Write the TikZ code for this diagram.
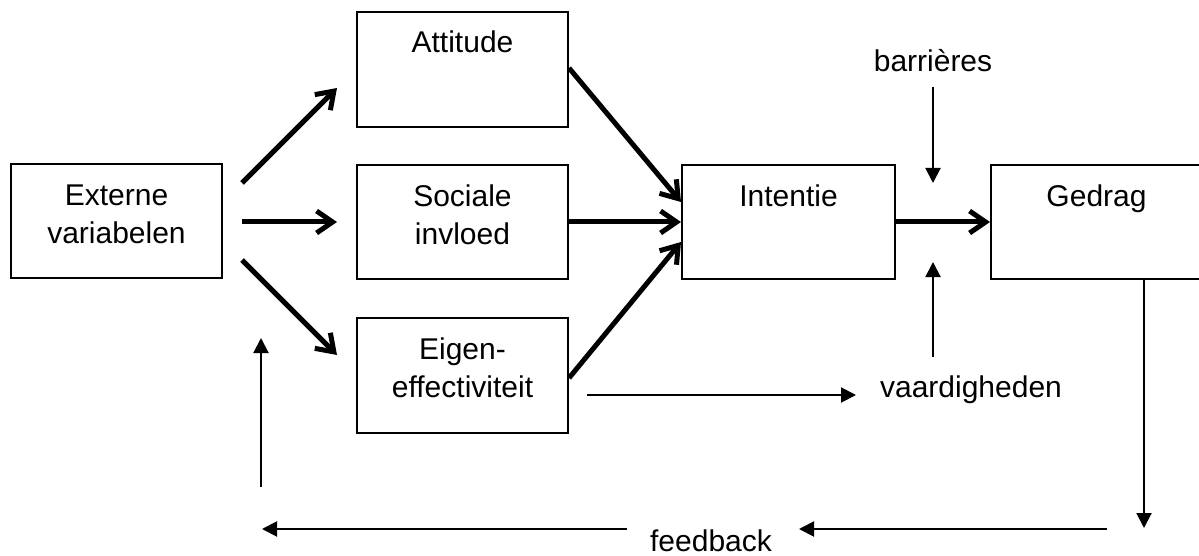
\documentclass[tikz,border=0pt]{standalone}
\usepackage{fontspec}
\setmainfont{Liberation Sans}
\usetikzlibrary{arrows.meta}
\begin{document}
\begin{tikzpicture}[x=1pt,y=-1pt,
  box/.style={draw, line width=2pt, minimum height=114pt, inner sep=0pt},
  lbl/.style={font=\fontsize{30}{38}\selectfont, align=center, inner sep=0pt},
  thick arrow/.style={line width=5pt, -{Straight Barb[length=16pt,width=22pt]}},
  thin arrow/.style={line width=2pt, -{Triangle[length=15pt,width=15pt]}}]
\useasboundingbox (0,0) rectangle (1199,556);

% boxes
\node[box, minimum width=211pt] (ext) at (116.5,221) {};
\node[box, minimum width=211pt, minimum height=115pt] (att) at (462.5,69.5) {};
\node[box, minimum width=211pt] (soc) at (462.5,222) {};
\node[box, minimum width=211pt, minimum height=115pt] (eig) at (462.5,375.5) {};
\node[box, minimum width=213pt] (int) at (788.5,222) {};
\node[box, minimum width=211pt] (ged) at (1096.5,222) {};

% box texts
\node[lbl] (extT) at (116.5,214) {Externe\\variabelen};
\node[lbl, anchor=base] (attT) at (462.5,53) {Attitude};
\node[lbl] (socT) at (462.5,215) {Sociale\\invloed};
\node[lbl] (eigT) at (462.5,368) {Eigen-\\effectiviteit};
\node[lbl, anchor=base] (intT) at (788.5,207) {Intentie};
\node[lbl, anchor=base] (gedT) at (1096.5,207) {Gedrag};

% free labels
\node[lbl, anchor=base] (bar) at (933,72) {barrières};
\node[lbl, anchor=base] (vaa) at (971,397) {vaardigheden};
\node[lbl, anchor=base] (fb) at (711,551) {feedback};

% free ends of the connectors
\coordinate (e1) at (242,183);
\coordinate (e2) at (242,222);
\coordinate (e3) at (242,260);
\coordinate (a1) at (337,88);
\coordinate (a2) at (337,222);
\coordinate (a3) at (337,355);
\coordinate (barTop) at (933,87);
\coordinate (barTip) at (933,183);
\coordinate (vaaBot) at (933,357);
\coordinate (vaaTip) at (933,262);
\coordinate (eigOut) at (587,395);
\coordinate (vaaIn) at (856,395);
\coordinate (gedTip) at (1144,528);
\coordinate (fbR) at (1107,529);
\coordinate (fbRTip) at (799,529);
\coordinate (fbL) at (627,529);
\coordinate (fbLTip) at (262,529);
\coordinate (upBot) at (261,487);
\coordinate (upTip) at (261,338);

% thick arrows
\draw[thick arrow] (e1) -- (a1);
\draw[thick arrow] (e2) -- (a2);
\draw[thick arrow] (e3) -- (a3);
\draw[thick arrow] ([yshift=1.5pt]att.east) -- ([yshift=20pt]int.west);
\draw[thick arrow] (soc.east) -- (int.west);
\draw[thick arrow] ([yshift=-2.5pt]eig.east) -- ([yshift=-20pt]int.west);
\draw[thick arrow] (int.east) -- (ged.west);

% thin arrows
\draw[thin arrow] (barTop) -- (barTip);
\draw[thin arrow] (vaaBot) -- (vaaTip);
\draw[thin arrow] (eigOut) -- (vaaIn);
\draw[thin arrow] ([xshift=47.5pt]ged.south) -- (gedTip);
\draw[thin arrow] (fbR) -- (fbRTip);
\draw[thin arrow] (fbL) -- (fbLTip);
\draw[thin arrow] (upBot) -- (upTip);
\end{tikzpicture}
\end{document}
